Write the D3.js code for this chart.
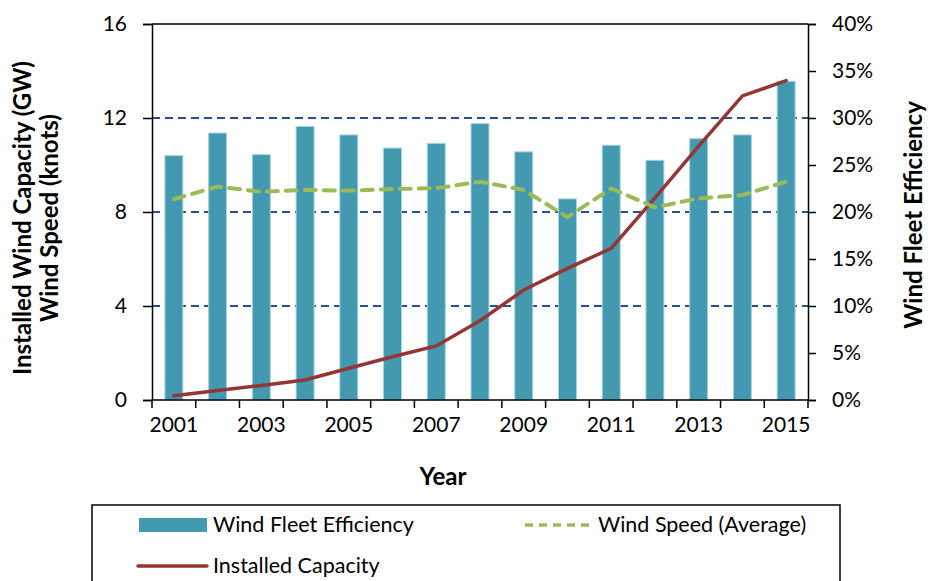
<!DOCTYPE html>
<html>
<head>
<meta charset="utf-8">
<script src="https://cdn.jsdelivr.net/npm/d3@7"></script>
<style>
  body { margin: 0; background: #fff; }
  text { font-family: Lato, "Open Sans", sans-serif; fill: #000; }
  .axis_title { font-size: 24px; font-weight: bold; }
  .legend_text { font-size: 21.5px; }
</style>
</head>
<body>
<script>
// data
var years = ["2001", "2002", "2003", "2004", "2005", "2006", "2007", "2008",
             "2009", "2010", "2011", "2012", "2013", "2014", "2015"];
var efficiency = [26.0, 28.4, 26.1, 29.1, 28.2, 26.8, 27.3, 29.4,
                  26.4, 21.4, 27.1, 25.5, 27.8, 28.2, 33.9];
var wind_speed = [8.55, 9.08, 8.86, 8.94, 8.91, 8.98, 9.01, 9.29,
                  8.94, 7.78, 9.0, 8.2, 8.58, 8.72, 9.29];
var capacity = [0.18, 0.4, 0.62, 0.85, 1.35, 1.84, 2.3, 3.37,
                4.68, 5.6, 6.45, 8.6, 10.8, 12.94, 13.59];
var left_ticks = [0, 4, 8, 12, 16];
var right_ticks = [0, 5, 10, 15, 20, 25, 30, 35, 40];
var grid_values = [4, 8, 12];

var bar_color = "#4399b0",
    speed_color = "#9bbb59",
    capacity_color = "#943634",
    grid_color = "#2b4f8c";

// plot area
var plot_left = 152, plot_right = 808, plot_top = 24, plot_bottom = 400;
var tick_font = "21px";

var svg = d3.select("body").append("svg")
        .attr("width", 930)
        .attr("height", 581);

var scale_x = d3.scaleBand()
        .domain(years)
        .range([plot_left, plot_right]);

var scale_left = d3.scaleLinear()
        .domain([0, 16])
        .range([plot_bottom, plot_top]);

var scale_right = d3.scaleLinear()
        .domain([0, 40])
        .range([plot_bottom, plot_top]);

var bar_width = scale_x.bandwidth() * 0.41;

// gridlines
svg.append("g")
        .selectAll("line")
        .data(grid_values)
        .enter()
        .append("line")
        .attr("x1", plot_left)
        .attr("x2", plot_right)
        .attr("y1", function(d){return scale_left(d);})
        .attr("y2", function(d){return scale_left(d);})
        .style("stroke", grid_color)
        .style("stroke-width", 1.8)
        .style("stroke-dasharray", "8,5");

// bars
svg.append("g")
        .selectAll("rect")
        .data(efficiency)
        .enter()
        .append("rect")
        .attr("x", function(d, i){return scale_x(years[i]) + scale_x.bandwidth()/2 - bar_width/2;})
        .attr("y", function(d){return scale_right(d);})
        .attr("width", bar_width)
        .attr("height", function(d){return plot_bottom - scale_right(d);})
        .style("fill", bar_color)
        .style("stroke", "#a8d2dc")
        .style("stroke-width", 1);

var center = function(i){return scale_x(years[i]) + scale_x.bandwidth()/2;};

// capacity line
var capacity_line = d3.line()
        .x(function(d, i){return center(i);})
        .y(function(d){return scale_left(d);});

svg.append("path")
        .attr("d", capacity_line(capacity))
        .style("fill", "none")
        .style("stroke", capacity_color)
        .style("stroke-width", 3.5)
        .style("stroke-linecap", "round");

// wind speed line
var speed_line = d3.line()
        .x(function(d, i){return center(i);})
        .y(function(d){return scale_left(d);});

svg.append("path")
        .attr("d", speed_line(wind_speed))
        .style("fill", "none")
        .style("stroke", speed_color)
        .style("stroke-width", 4)
        .style("stroke-dasharray", "11,8")
        .style("stroke-linecap", "round");

// top border
svg.append("line")
        .attr("x1", plot_left)
        .attr("x2", plot_right)
        .attr("y1", plot_top)
        .attr("y2", plot_top)
        .style("stroke", "black")
        .style("stroke-width", 1.5);

// left axis
var y_axis_left = svg.append("g")
        .attr("transform", "translate(" + plot_left + ",0)")
        .call(d3.axisLeft(scale_left)
                .tickValues(left_ticks)
                .tickSize(9)
                .tickPadding(16));

// right axis
var y_axis_right = svg.append("g")
        .attr("transform", "translate(" + plot_right + ",0)")
        .call(d3.axisRight(scale_right)
                .tickValues(right_ticks)
                .tickSize(8)
                .tickPadding(16)
                .tickFormat(function(d){return d + "%";}));

// bottom axis
var x_axis = svg.append("g")
        .attr("transform", "translate(0," + plot_bottom + ")")
        .call(d3.axisBottom(scale_x)
                .tickSize(0)
                .tickPadding(17)
                .tickFormat(function(d, i){return i % 2 == 0 ? d : "";}));

// category boundary ticks
svg.append("g")
        .selectAll("line")
        .data(years.concat(["end"]))
        .enter()
        .append("line")
        .attr("x1", function(d, i){return plot_left + i * scale_x.step();})
        .attr("x2", function(d, i){return plot_left + i * scale_x.step();})
        .attr("y1", plot_bottom)
        .attr("y2", plot_bottom + 8)
        .style("stroke", "black")
        .style("stroke-width", 1.5);

[y_axis_left, y_axis_right, x_axis].forEach(function(ax){
    ax.attr("font-size", null).attr("font-family", null);
    ax.selectAll("path, line")
            .style("stroke", "black")
            .style("stroke-width", 1.5);
    ax.selectAll("text")
            .style("font-size", tick_font)
            .style("font-family", "Lato, 'Open Sans', sans-serif");
});
x_axis.select(".domain").attr("d", "M" + plot_left + ",0H" + plot_right);

// axis titles
svg.append("text")
        .text("Installed Wind Capacity (GW)")
        .attr("class", "axis_title")
        .attr("transform", "translate(25, 218) rotate(-90)")
        .attr("text-anchor", "middle")
        .attr("dominant-baseline", "middle");

svg.append("text")
        .text("Wind Speed (knots)")
        .attr("class", "axis_title")
        .attr("transform", "translate(52, 218) rotate(-90)")
        .attr("text-anchor", "middle")
        .attr("dominant-baseline", "middle");

svg.append("text")
        .text("Wind Fleet Efficiency")
        .attr("class", "axis_title")
        .attr("transform", "translate(916, 215) rotate(-90)")
        .attr("text-anchor", "middle")
        .attr("dominant-baseline", "middle");

svg.append("text")
        .text("Year")
        .attr("class", "axis_title")
        .attr("x", 443)
        .attr("y", 485)
        .attr("text-anchor", "middle");

// legend
var legend = svg.append("g");

legend.append("rect")
        .attr("x", 92)
        .attr("y", 505)
        .attr("width", 748)
        .attr("height", 90)
        .style("fill", "none")
        .style("stroke", "black")
        .style("stroke-width", 1.5);

legend.append("rect")
        .attr("x", 139)
        .attr("y", 518)
        .attr("width", 68)
        .attr("height", 14)
        .style("fill", bar_color);

legend.append("text")
        .text("Wind Fleet Efficiency")
        .attr("class", "legend_text")
        .attr("x", 213)
        .attr("y", 532);

legend.append("line")
        .attr("x1", 525)
        .attr("x2", 592)
        .attr("y1", 525)
        .attr("y2", 525)
        .style("stroke", speed_color)
        .style("stroke-width", 3.5)
        .style("stroke-dasharray", "8,6");

legend.append("text")
        .text("Wind Speed (Average)")
        .attr("class", "legend_text")
        .attr("x", 598)
        .attr("y", 532);

legend.append("line")
        .attr("x1", 138)
        .attr("x2", 207)
        .attr("y1", 566)
        .attr("y2", 566)
        .style("stroke", capacity_color)
        .style("stroke-width", 3.5)
        .style("stroke-linecap", "round");

legend.append("text")
        .text("Installed Capacity")
        .attr("class", "legend_text")
        .attr("x", 213)
        .attr("y", 573);
</script>
</body>
</html>
